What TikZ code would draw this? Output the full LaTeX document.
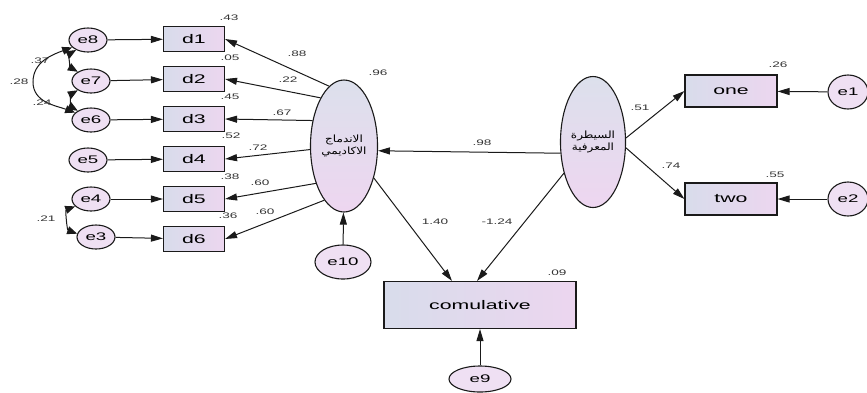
\documentclass[tikz,border=0pt]{standalone}
\usepackage{fontspec}
\setmainfont{Liberation Sans}
\newfontfamily\widefont[FakeStretch=1.7]{Liberation Sans}
\newfontfamily\arabicfont[Script=Arabic,FakeStretch=1.2]{DejaVu Sans}
\TeXXeTstate=1
\usetikzlibrary{shapes.geometric,arrows.meta}
\definecolor{boxL}{HTML}{D8DCEB}
\definecolor{boxR}{HTML}{ECD6EF}
\definecolor{errF}{HTML}{EFE0F3}
\definecolor{latT}{HTML}{DCE0EC}
\definecolor{latB}{HTML}{EED6F0}
\definecolor{lnC}{HTML}{1A1A1A}
\definecolor{lblC}{HTML}{333333}
\tikzset{
  obs/.style={rectangle, draw=lnC, line width=1.1pt, left color=boxL, right color=boxR,
    font=\widefont\fontsize{12.5}{13}\selectfont, inner sep=0pt},
  errnode/.style={ellipse, draw=lnC, line width=1.1pt, fill=errF, minimum width=38pt,
    minimum height=24pt, inner sep=0pt, font=\widefont\fontsize{11}{12}\selectfont},
  lat/.style={ellipse, draw=lnC, line width=1.1pt, top color=latT, bottom color=latB,
    inner sep=0pt, align=center, font=\arabicfont\fontsize{10}{12}\selectfont},
  arr/.style={-{Triangle[length=12pt,width=7pt]}, line width=1pt, draw=lnC},
  cov/.style={{Triangle[length=10pt,width=8pt]}-{Triangle[length=10pt,width=8pt]}, line width=1pt, draw=lnC},
  lbl/.style={font=\widefont\fontsize{8}{9}\selectfont, text=lblC, inner sep=0pt}
}
\begin{document}
\begin{tikzpicture}[x=1pt,y=-1pt]
\useasboundingbox (0,0) rectangle (867,392);
% error terms
\node[errnode] (e8) at (88,40) {e8};
\node[errnode] (e7) at (91,81) {e7};
\node[errnode] (e6) at (91,120) {e6};
\node[errnode] (e5) at (88,160) {e5};
\node[errnode] (e4) at (91,199) {e4};
\node[errnode] (e3) at (96,237) {e3};
% indicators
\node[obs, minimum width=61pt, minimum height=25pt] (d1) at (194,39) {d1};
\node[obs, minimum width=61pt, minimum height=25pt] (d2) at (194,79) {d2};
\node[obs, minimum width=61pt, minimum height=25pt] (d3) at (194,119) {d3};
\node[obs, minimum width=61pt, minimum height=25pt] (d4) at (194,159) {d4};
\node[obs, minimum width=61pt, minimum height=25pt] (d5) at (194,199) {d5};
\node[obs, minimum width=61pt, minimum height=25pt] (d6) at (194,239) {d6};
% latents
\node[lat, minimum width=67pt, minimum height=132pt] (L) at (344,146)
  {\beginR الاندماج\endR\\\beginR الاكاديمي\endR};
\node[lat, minimum width=65pt, minimum height=131pt] (R) at (593,142)
  {\beginR السيطرة\endR\\\beginR المعرفية\endR};
\node[errnode, minimum width=56pt, minimum height=34pt] (e10) at (343,262) {e10};
% right side
\node[obs, minimum width=92pt, minimum height=32pt] (one) at (731,91) {one};
\node[obs, minimum width=92pt, minimum height=32pt] (two) at (731,199) {two};
\node[errnode, minimum width=40pt, minimum height=34pt] (e1) at (848,92) {e1};
\node[errnode, minimum width=40pt, minimum height=34pt] (e2) at (848,199) {e2};
% outcome
\node[obs, minimum width=192pt, minimum height=47pt] (C) at (480,305) {comulative};
\node[errnode, minimum width=62pt, minimum height=26pt] (e9) at (480,379) {e9};
% error -> indicator
\draw[arr] (e8) -- (d1);
\draw[arr] (e7) -- (d2);
\draw[arr] (e6) -- (d3);
\draw[arr] (e5) -- (d4);
\draw[arr] (e4) -- (d5);
\draw[arr] (e3) -- (d6);
% latent -> indicators
\draw[arr] (L.104) -- (d1.east);
\draw[arr] (L.116) -- (d2.east);
\draw[arr] (L.141) -- (d3.east);
\draw[arr] (L.186) -- (d4.east);
\draw[arr] (L.233) -- (d5.east);
\draw[arr] (L.250) -- (d6.east);
\draw[arr] (e10) -- (L);
% structural
\draw[arr] (R.199) -- (L.-8);
\draw[arr] (L.-47) -- ([xshift=-28pt]C.north);
\draw[arr] (R.227) -- ([xshift=-3pt]C.north);
\draw[arr] (R.7) -- (one.west);
\draw[arr] (R.-10) -- (two.west);
\draw[arr] (e1) -- (one);
\draw[arr] (e2) -- (two);
\draw[arr] (e9) -- (C);
% covariances
\draw[cov] (e8.205) to[out=200,in=90] (33,82) to[out=-90,in=160] (e6.155);
\draw[cov] (e8.220) to[out=210,in=150] (e7.145);
\draw[cov] (e7.215) to[out=210,in=150] (e6.145);
\draw[cov] (e4.205) to[out=200,in=160] (e3.170);
% labels
\node[lbl] (l1) at (229,18) {.43};
\node[lbl] (l2) at (230,58) {.05};
\node[lbl] (l3) at (230,97) {.45};
\node[lbl] (l4) at (231,136) {.52};
\node[lbl] (l5) at (230,177) {.38};
\node[lbl] (l6) at (228,216) {.36};
\node[lbl] (l7) at (297,54) {.88};
\node[lbl] (l8) at (288,80) {.22};
\node[lbl] (l9) at (282,113) {.67};
\node[lbl] (l10) at (258,148) {.72};
\node[lbl] (l11) at (260,183) {.60};
\node[lbl] (l12) at (265,212) {.60};
\node[lbl] (l13) at (378,73) {.96};
\node[lbl] (l14) at (482,143) {.98};
\node[lbl] (l15) at (435,222) {1.40};
\node[lbl] (l16) at (497,222) {-1.24};
\node[lbl] (l17) at (557,273) {.09};
\node[lbl] (l18) at (640,108) {.51};
\node[lbl] (l19) at (671,166) {.74};
\node[lbl] (l20) at (778,65) {.26};
\node[lbl] (l21) at (775,175) {.55};
\node[lbl] (l22) at (19,82) {.28};
\node[lbl] (l23) at (40,61) {.37};
\node[lbl] (l24) at (42,103) {.24};
\node[lbl] (l25) at (46,219) {.21};
\end{tikzpicture}
\end{document}
